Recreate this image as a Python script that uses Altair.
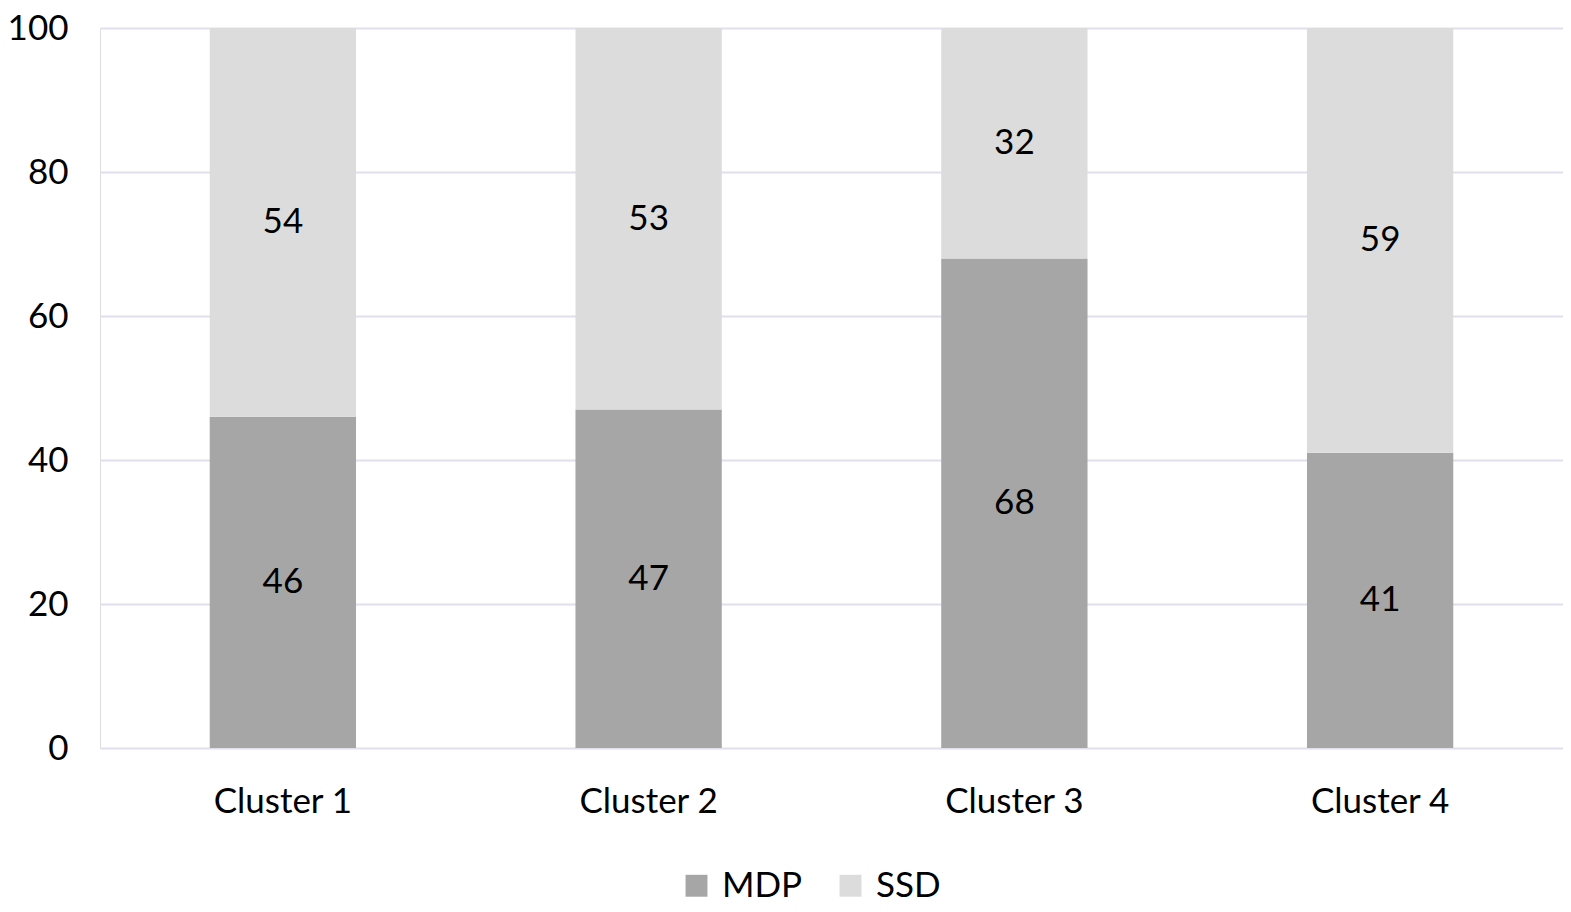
import altair as alt
import pandas as pd

clusters = ["Cluster 1", "Cluster 2", "Cluster 3", "Cluster 4"]
mdp = [46, 47, 68, 41]
ssd = [54, 53, 32, 59]
series = ["MDP", "SSD"]
colors = ["#a6a6a6", "#dcdcdc"]

rows = []
for c, m, s in zip(clusters, mdp, ssd):
    rows.append({"cluster": c, "series": "MDP", "order": 0, "value": m})
    rows.append({"cluster": c, "series": "SSD", "order": 1, "value": s})
df = pd.DataFrame(rows)

FONT = "Lato"
FS = 35

base = alt.Chart(df).transform_stack(
    stack="value", groupby=["cluster"], as_=["y0", "y1"],
    sort=[alt.SortField("order", order="ascending")]
).transform_calculate(mid="(datum.y0 + datum.y1) / 2")

x_enc = alt.X("cluster:N", sort=clusters, title=None,
              scale=alt.Scale(paddingInner=0.6, paddingOuter=0.3),
              axis=alt.Axis(labelAngle=0, labelFont=FONT, labelFontSize=FS,
                            labelColor="#000000", labelPadding=36,
                            ticks=False, domain=False, grid=False))

bars = base.mark_bar().encode(
    x=x_enc,
    y=alt.Y("y0:Q", title=None,
            scale=alt.Scale(domain=[0, 100], nice=False),
            axis=alt.Axis(values=[0, 20, 40, 60, 80, 100], labelFont=FONT,
                          labelFontSize=FS, labelColor="#000000",
                          labelPadding=32, ticks=False, domain=False,
                          grid=True, gridColor="#e0e0ec", gridWidth=2)),
    y2="y1:Q",
    color=alt.Color("series:N", scale=alt.Scale(domain=series, range=colors),
                    legend=alt.Legend(title=None, orient="none",
                                      direction="horizontal",
                                      legendX=579, legendY=840,
                                      symbolType="square", symbolSize=480,
                                      symbolStrokeWidth=0,
                                      labelFont=FONT, labelFontSize=FS,
                                      labelColor="#000000",
                                      columnPadding=30, labelOffset=8)),
)

labels = base.mark_text(font=FONT, fontSize=FS, color="#000000",
                        baseline="middle").encode(
    x=alt.X("cluster:N", sort=clusters),
    y=alt.Y("mid:Q"),
    text=alt.Text("value:Q"),
)

chart = alt.layer(bars, labels).properties(
    width=1463, height=720,
    autosize=alt.AutoSizeParams(type="none"),
    padding={"left": 92, "top": 20, "right": 0, "bottom": 156},
).configure_view(stroke=None).configure(background="#ffffff")

chart.save("out.html", embed_options={"renderer": "svg", "actions": False})
